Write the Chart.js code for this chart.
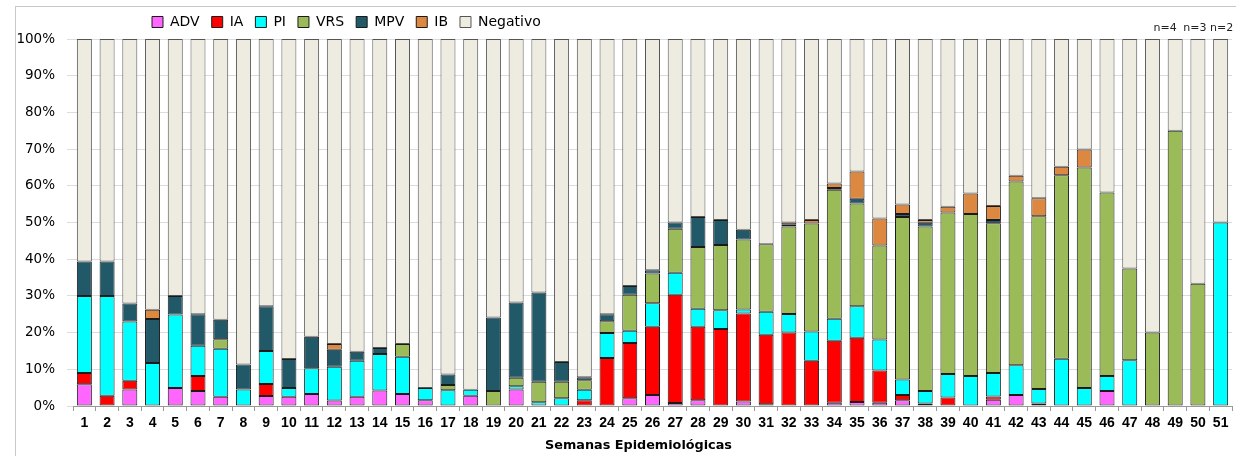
<!DOCTYPE html>
<html>
<head>
<meta charset="utf-8">
<script src="https://cdn.jsdelivr.net/npm/chart.js@4/dist/chart.umd.min.js"></script>
<style>
  html, body { margin: 0; padding: 0; background: #fff; overflow: hidden; }
  #wrap { position: relative; width: 1236px; height: 456px; }
  #frame { position: absolute; left: 15px; top: 6px; width: 1400px; height: 600px;
           border-top: 1px solid #c8c8c8; border-left: 1px solid #c8c8c8; }
  #chart { position: absolute; left: 0; top: 0; }
</style>
</head>
<body>
<div id="wrap">
  <div id="frame"></div>
  <canvas id="chart" width="1236" height="456"></canvas>
</div>
<script>
const weeks = Array.from({ length: 51 }, (_, i) => String(i + 1));

const adv = [5.9, 0, 4.5, 0, 4.9, 4.1, 2.5, 0, 2.7, 2.5,
  3.3, 1.5, 2.5, 4.2, 3.3, 1.6, 0, 2.8, 0, 4.5,
  0, 0, 0, 0, 2.1, 3.0, 0.8, 1.6, 0, 1.2,
  0.5, 0, 0, 0.9, 1.1, 0.9, 1.6, 0, 0, 0,
  1.7, 3.0, 0.7, 0, 0, 4.1, 0, 0, 0, 0, 0];
const ia = [3.1, 2.8, 2.4, 0, 0, 4.1, 0, 0, 3.3, 0,
  0, 0, 0, 0, 0, 0, 0, 0, 0, 0,
  0, 0, 1.6, 13.1, 15.1, 18.6, 29.5, 20.0, 21.0, 24.0,
  18.9, 20.0, 12.3, 16.9, 17.5, 8.8, 1.4, 0.7, 2.3, 0,
  0.9, 0, 0, 0, 0, 0, 0, 0, 0, 0, 0];
const pi = [21.0, 27.2, 16.1, 11.7, 20.0, 8.2, 13.1, 4.5, 9.0, 2.4,
  7.0, 9.2, 9.8, 10.0, 10.1, 3.3, 4.3, 1.6, 0, 0.9,
  1.0, 2.1, 2.8, 6.8, 3.3, 6.4, 6.0, 4.9, 5.1, 1.1,
  6.3, 5.1, 8.0, 6.0, 8.6, 8.4, 4.2, 3.4, 6.4, 8.2,
  6.4, 8.1, 3.9, 12.9, 4.9, 4.1, 12.5, 0, 0, 0, 50.0];
const vrs = [0, 0, 0, 0, 0, 0, 2.6, 0, 0, 0,
  0, 0, 0, 0, 3.5, 0, 1.4, 0, 4.1, 2.3,
  5.6, 4.5, 2.6, 3.2, 9.8, 8.1, 12.0, 16.8, 17.8, 19.1,
  18.4, 23.8, 29.4, 35.1, 28.0, 25.6, 44.3, 44.8, 44.0, 44.1,
  40.8, 50.1, 47.1, 50.0, 60.1, 50.0, 25.0, 20.0, 75.0, 33.3, 0];
const mpv = [9.4, 9.4, 4.9, 12.0, 5.1, 8.6, 5.3, 6.8, 12.2, 7.9,
  8.6, 4.6, 2.5, 1.6, 0, 0, 2.9, 0, 20.0, 20.5,
  24.3, 5.4, 0.8, 1.9, 2.4, 0.9, 1.7, 8.2, 6.8, 2.6,
  0, 0.5, 0, 0.5, 1.3, 0, 0.8, 1.0, 0, 0,
  0.9, 0, 0, 0, 0, 0, 0, 0, 0, 0, 0];
const ib = [0, 0, 0, 2.5, 0, 0, 0, 0, 0, 0,
  0, 1.6, 0, 0, 0, 0, 0, 0, 0, 0,
  0, 0, 0, 0, 0, 0, 0, 0, 0, 0,
  0, 0.6, 1.0, 1.2, 7.4, 7.4, 2.6, 0.8, 1.6, 5.6,
  3.8, 1.55, 4.9, 2.3, 4.9, 0, 0, 0, 0, 0, 0];
const negativo = [60.6, 60.6, 72.1, 73.8, 70.0, 75.0, 76.5, 88.7, 72.8, 87.2,
  81.1, 83.1, 85.2, 84.2, 83.1, 95.1, 91.4, 95.6, 75.9, 71.8,
  69.1, 88.0, 92.2, 75.0, 67.3, 63.0, 50.0, 48.5, 49.3, 52.0,
  55.9, 50.0, 49.3, 39.4, 36.1, 48.9, 45.1, 49.3, 45.7, 42.1,
  45.5, 37.25, 43.4, 34.8, 30.1, 41.8, 62.5, 80.0, 25.0, 66.7, 50.0];

// sample sizes written over the last weeks
const nWeeks = ['49', '50', '51'];
const nLabels = ['n=4', 'n=3', 'n=2'];
const xTitle = 'Semanas Epidemiológicas';

function ds(label, data, color, border) {
  return {
    label: label,
    data: data.map(v => (v === 0 ? null : v)), // no outline for empty segments
    backgroundColor: color,
    borderColor: border || '#1a1a1a',
    borderWidth: 1,
    borderSkipped: false,
    barPercentage: 0.66,
    categoryPercentage: 1.0
  };
}

// move the legend to where the original has it
const legendShift = {
  id: 'legendShift',
  afterLayout(chart) {
    chart.legend.left += 140;
    chart.legend.right += 140;
  }
};

const extraText = {
  id: 'extraText',
  afterDraw(chart) {
    const ctx = chart.ctx;
    const x = chart.scales.x;
    const shift = [-10, -3, 1];
    ctx.save();
    ctx.font = '11px "DejaVu Sans"';
    ctx.fillStyle = '#222';
    ctx.textAlign = 'center';
    ctx.textBaseline = 'middle';
    nWeeks.forEach((w, i) => {
      ctx.fillText(nLabels[i], x.getPixelForValue(weeks.indexOf(w)) + shift[i], 28);
    });
    // axis title, a bit left of centre as in the original
    ctx.font = 'bold 12.8px "DejaVu Sans"';
    ctx.fillStyle = '#000';
    ctx.fillText(xTitle, (x.left + x.right) / 2 - 14, 446);
    ctx.restore();
  }
};

new Chart(document.getElementById('chart').getContext('2d'), {
  type: 'bar',
  data: {
    labels: weeks,
    datasets: [
      ds('ADV', adv, '#FF66FF'),
      ds('IA', ia, '#FF0000'),
      ds('PI', pi, '#00FFFF'),
      ds('VRS', vrs, '#9BBB59'),
      ds('MPV', mpv, '#215968'),
      ds('IB', ib, '#DD8840'),
      ds('Negativo', negativo, '#EEECE1', '#555')
    ]
  },
  options: {
    responsive: false,
    animation: false,
    devicePixelRatio: 1,
    layout: { padding: { top: 3, right: 4, left: 0, bottom: 0 } },
    plugins: {
      tooltip: { enabled: false },
      legend: {
        position: 'top',
        align: 'start',
        labels: {
          boxWidth: 11,
          boxHeight: 11,
          padding: 12,
          color: '#000',
          font: { family: 'DejaVu Sans', size: 14 }
        }
      }
    },
    scales: {
      x: {
        stacked: true,
        afterFit(scale) { scale.height = 50; },
        grid: { drawOnChartArea: false, drawTicks: true, tickLength: 5, color: '#999' },
        border: { color: '#999' },
        ticks: {
          color: '#000',
          padding: 4,
          maxRotation: 0,
          autoSkip: false,
          font: { family: 'Liberation Sans', size: 14, weight: 'bold' }
        }
      },
      y: {
        stacked: true,
        min: 0,
        max: 100,
        afterFit(scale) { scale.width = 73; },
        grid: { color: '#dcdcdc', tickLength: 6 },
        border: { display: false },
        ticks: {
          stepSize: 10,
          color: '#000',
          padding: 12,
          font: { family: 'DejaVu Sans', size: 13.5 },
          callback: v => v + '%'
        }
      }
    }
  },
  plugins: [legendShift, extraText]
});
</script>
</body>
</html>
